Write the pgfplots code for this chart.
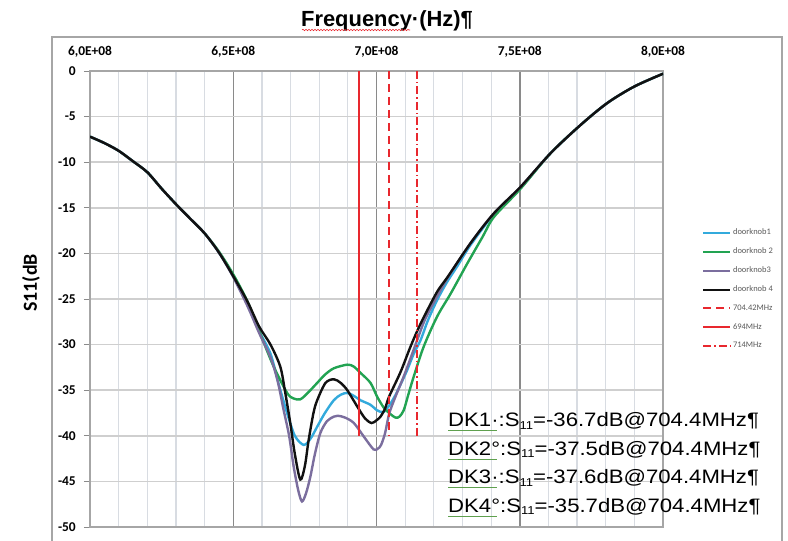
\documentclass[border=0pt]{standalone}
\usepackage{pgfplots}
\pgfplotsset{compat=1.18}
\usepackage{fontspec}
\usetikzlibrary{decorations.pathmorphing}
\setmainfont{Liberation Sans}
\newfontfamily\calibri{Carlito}
\newfontfamily\annfont[FakeStretch=1.14]{Liberation Sans}

\definecolor{dkone}{HTML}{33AADC}
\definecolor{dktwo}{HTML}{22A352}
\definecolor{dkthree}{HTML}{7B6E9E}
\definecolor{dkfour}{HTML}{111111}
\definecolor{markred}{HTML}{E8282E}
\definecolor{gridmajor}{HTML}{8A8A8A}
\definecolor{gridminor}{HTML}{D8DCE2}
\definecolor{gridy}{HTML}{CFCFCF}
\definecolor{frame}{HTML}{A6A6A6}
\definecolor{legtext}{HTML}{595959}
\definecolor{spellgreen}{HTML}{5FA04E}

\newcommand{\sub}[1]{\raisebox{-2.5bp}{\fontsize{11.5}{12}\selectfont #1}}

\begin{document}
\begin{tikzpicture}[x=1bp,y=1bp]
\begin{axis}[
  at={(0,0)}, anchor=south west,
  scale only axis, width=573bp, height=456bp,
  xmin=600, xmax=800, ymin=-50, ymax=0,
  xtick={600,650,700,750,800},
  xticklabels={{6,0E+08},{6,5E+08},{7,0E+08},{7,5E+08},{8,0E+08}},
  minor xtick={610,620,630,640,660,670,680,690,710,720,730,740,760,770,780,790},
  ytick={0,-5,-10,-15,-20,-25,-30,-35,-40,-45,-50},
  yticklabels={0,-5,-10,-15,-20,-25,-30,-35,-40,-45,-50},
  xticklabel pos=upper,
  every major x tick/.append style={draw=none},
  minor tick length=0pt,
  ytick pos=left,
  tick align=outside, major tick length=6bp,
  tick style={gridmajor, line width=0.8bp},
  xmajorgrids, xminorgrids, ymajorgrids,
  major x grid style={gridmajor, line width=1.5bp},
  minor x grid style={gridminor, line width=1.2bp},
  major y grid style={gridy, line width=1.5bp},
  axis line style={draw=frame, line width=1.2bp},
  ticklabel style={font=\calibri\bfseries\fontsize{13.5}{14}\selectfont, text=black},
  xticklabel style={anchor=center, yshift=13bp},
  yticklabel style={anchor=east, inner sep=0pt, xshift=-8bp},
  legend cell align=left,
  legend style={draw=none, fill=none, at={(1.068,0.657)}, anchor=north west,
    font=\calibri\fontsize{8.5}{10}\selectfont, text=legtext,
    inner sep=0pt, row sep=8.6bp, nodes={inner sep=1.5bp}},
  legend image code/.code={\draw[#1] (0bp,0bp) -- (27bp,0bp);},
]

% doorknob1
\addplot[dkone, line width=2.4bp, smooth] coordinates {
(600,-7.2) (605,-7.9) (610,-8.75) (615,-9.9) (620,-11.1) (625,-12.9) (630,-14.6)
(635,-16.2) (640,-17.8) (645,-19.9) (650,-22.5) (655,-25.6) (659,-28.5) (663,-31.0)
(666,-34.5) (668.8,-37.5) (671.5,-40.0) (674.6,-41.0) (677,-40.3) (679.3,-39.0)
(682,-37.5) (685.1,-36.1) (687.5,-35.5) (689.8,-35.3) (692,-35.6) (694.4,-36.1)
(697.9,-36.6) (700.2,-37.2) (702.4,-37.4) (704.4,-36.7) (706.5,-35.6) (708.5,-34.3)
(710.7,-32.8) (713,-31.0) (715.4,-29.5) (718,-27.3) (721.2,-25.1) (724.5,-23.2)
(728.2,-21.4) (733,-19.0) (741,-15.7) (750.3,-12.8) (760.8,-9.0) (771.3,-5.9)
(780.6,-3.5) (790,-1.7) (800,-0.3)};
\addlegendentry{doorknob1}

% doorknob 2
\addplot[dktwo, line width=2.4bp, smooth] coordinates {
(600,-7.2) (605,-7.9) (610,-8.75) (615,-9.9) (620,-11.1) (625,-12.9) (630,-14.6)
(635,-16.2) (640,-17.8) (645,-19.8) (650,-22.3) (655,-25.3) (659.4,-28.8) (664.1,-32.4)
(668.8,-35.3) (671,-35.9) (673.4,-36.0) (676,-35.3) (679.3,-34.2) (682,-33.3)
(685.1,-32.6) (689.8,-32.2) (692,-32.4) (694.4,-33.1) (697.9,-34.2) (700.2,-35.7)
(702.5,-36.9) (704.4,-37.5) (706.6,-38.0) (708,-37.9) (709.5,-37.2) (711,-35.6)
(713,-33.5) (716.5,-30.2) (721.2,-26.9) (725.9,-24.4) (731.7,-21.1) (737,-18.2)
(741,-16.0) (750.3,-12.9) (760.8,-9.0) (771.3,-5.9) (780.6,-3.5) (790,-1.7) (800,-0.3)};
\addlegendentry{doorknob 2}

% doorknob3
\addplot[dkthree, line width=2.4bp, smooth] coordinates {
(600,-7.2) (605,-7.9) (610,-8.75) (615,-9.9) (620,-11.1) (625,-12.9) (630,-14.6)
(635,-16.2) (640,-17.8) (645,-19.9) (650,-22.6) (655,-25.8) (659,-28.7) (663,-31.4)
(665.5,-34.0) (667.6,-37.2) (669.5,-40.0) (671.1,-43.4) (672.7,-46.0) (674,-47.2)
(675.4,-46.3) (676.9,-44.5) (678.5,-42.0) (680.4,-39.7) (682.7,-38.4) (685.1,-37.9)
(686.5,-37.8) (689,-38.0) (692.1,-38.6) (695.6,-40.1) (699,-41.5) (700.5,-41.4)
(701.6,-41.0) (703,-39.7) (704.4,-37.6) (706.5,-35.8) (709.5,-33.5) (712,-31.4)
(714.2,-29.5) (717,-27.2) (721.2,-24.7) (725,-22.6) (733,-18.8) (741,-15.6)
(750.3,-12.7) (760.8,-9.0) (771.3,-5.9) (780.6,-3.5) (790,-1.7) (800,-0.3)};
\addlegendentry{doorknob3}

% doorknob 4
\addplot[dkfour, line width=2.4bp, smooth] coordinates {
(600,-7.2) (605,-7.9) (610,-8.75) (615,-9.9) (620,-11.1) (625,-12.9) (630,-14.6)
(635,-16.2) (640,-17.8) (645,-19.9) (650,-22.5) (655,-25.3) (659,-28.0) (663,-30.0)
(666.4,-32.4) (668,-35.0) (669.9,-38.6) (671.5,-42.0) (673.4,-44.8) (675,-43.3)
(676.3,-40.5) (678,-37.5) (679.3,-36.1) (682.2,-34.2) (685.1,-33.8) (687.5,-34.2)
(689.8,-35.0) (693.3,-36.8) (696,-38.1) (698.3,-38.6) (700,-38.3) (701.4,-37.9)
(703,-37.0) (704.4,-35.7) (708.4,-33.0) (711.9,-30.2) (715.4,-27.7) (721,-24.3)
(725,-22.5) (733,-18.8) (741,-15.6) (750.3,-12.7) (760.8,-9.0) (771.3,-5.9)
(780.6,-3.5) (790,-1.7) (800,-0.3)};
\addlegendentry{doorknob 4}

% marker frequencies
\addplot[markred, line width=2bp, dash pattern=on 8bp off 5bp] coordinates {(704.42,0) (704.42,-40)};
\addlegendentry{704.42MHz}
\addplot[markred, line width=2bp] coordinates {(694,0) (694,-40)};
\addlegendentry{694MHz}
\addplot[markred, line width=2bp, dash pattern=on 8bp off 3bp on 1.5bp off 3bp] coordinates {(714,0) (714,-40)};
\addlegendentry{714MHz}
\end{axis}

\begin{scope}[shift={(-90,-14)}]
% outer chart frame
\draw[frame, line width=1.2bp] (52,-5) -- (52,504) -- (782,504) -- (782,-5);

% titles
\node[anchor=base, inner sep=0pt, font=\bfseries\fontsize{22}{24}\selectfont] at (387,514.5) {Frequency·(Hz)¶};
\draw[markred, line width=0.6bp, decorate, decoration={snake, amplitude=0.7bp, segment length=3bp}] (302,511) -- (410,511);
\node[rotate=90, inner sep=0pt, font=\calibri\bfseries\fontsize{20}{22}\selectfont] at (31,258) {S11(dB};

% results
\begin{scope}[every node/.style={anchor=base west, inner sep=0pt, font=\annfont\fontsize{19.5}{20}\selectfont}]
\node at (448,114) {DK1·:S\sub{11}=-36.7dB@704.4MHz¶};
\node at (448,85.5) {DK2°:S\sub{11}=-37.5dB@704.4MHz¶};
\node at (448,57) {DK3·:S\sub{11}=-37.6dB@704.4MHz¶};
\node at (448,28.5) {DK4°:S\sub{11}=-35.7dB@704.4MHz¶};
\end{scope}
\begin{scope}[spellgreen, line width=0.6bp, decorate, decoration={snake, amplitude=0.7bp, segment length=3bp}]
\draw (448,110.3) -- (497,110.3);
\draw (448,81.8) -- (497,81.8);
\draw (448,53.3) -- (497,53.3);
\draw (448,24.8) -- (497,24.8);
\end{scope}
\end{scope}

\pgfresetboundingbox
\path[use as bounding box] (-90,-14) rectangle (698,527);
\end{tikzpicture}
\end{document}
